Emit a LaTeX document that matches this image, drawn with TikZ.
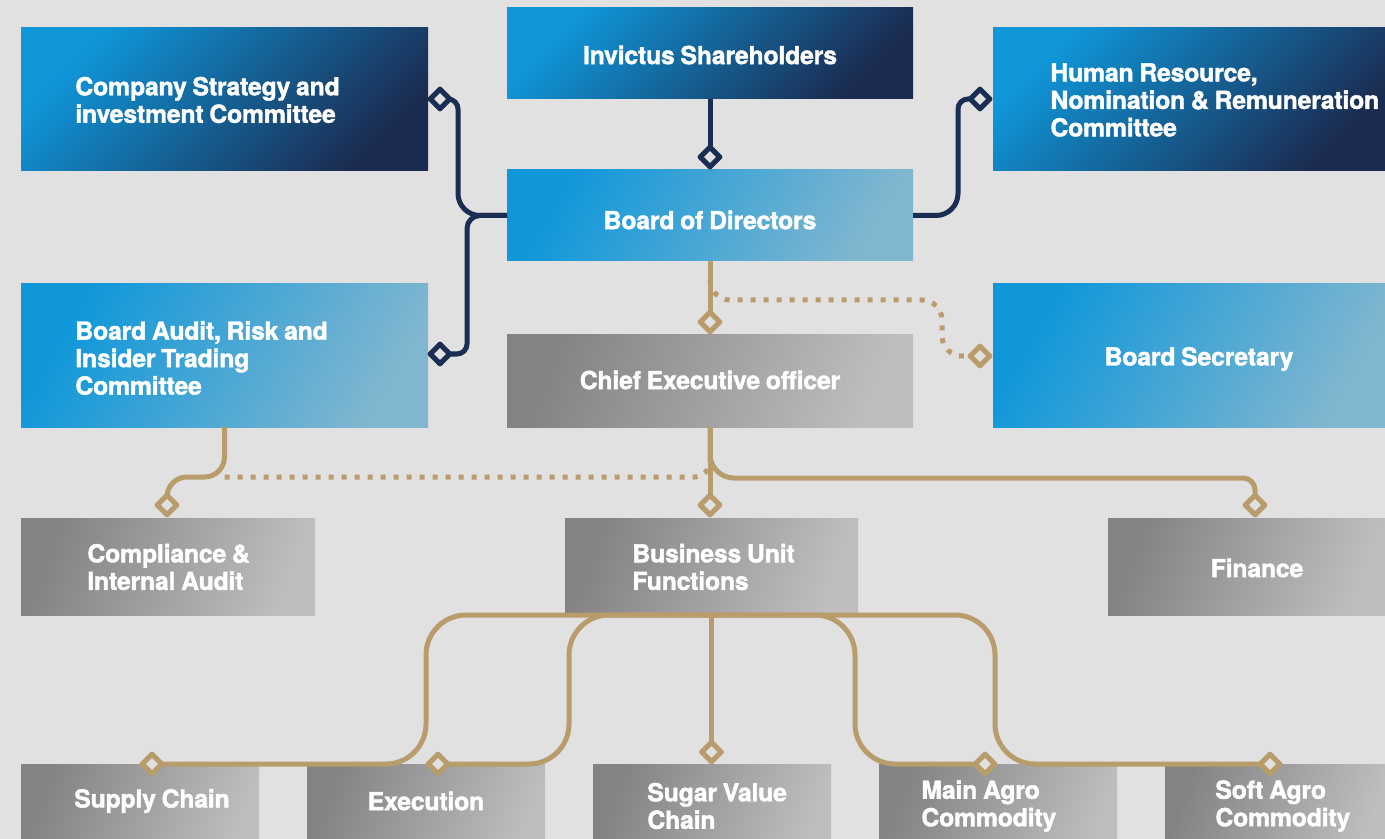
\documentclass[tikz,border=0pt]{standalone}
\usepackage{fontspec}
\setmainfont{TeX Gyre Heros}
\newfontfamily\heavyfont[FakeBold=1.6, LetterSpace=-0.8, WordSpace=0.85]{TeX Gyre Heros Bold}
\usetikzlibrary{shapes.geometric,fit}
\definecolor{bg}{HTML}{E1E1E1}
\definecolor{navy}{HTML}{1A2D52}
\definecolor{gold}{HTML}{B89C6C}
\definecolor{blueA}{HTML}{0F97DA}
\definecolor{navyB}{HTML}{1B2B50}
\definecolor{lightB}{HTML}{80B6CF}
\definecolor{grayA}{HTML}{838383}
\definecolor{grayB}{HTML}{BEBEBE}
\tikzset{
  box/.style={inner sep=0pt, outer sep=0pt, draw=none},
  darkbox/.style={box, left color=blueA, right color=navyB, shading angle=45},
  lightbox/.style={box, left color=blueA, right color=lightB, shading angle=60},
  graybox/.style={box, left color=grayA, right color=grayB, shading angle=70},
  lbl/.style={text=white, font=\heavyfont\fontsize{12.4}{13.75}\selectfont, inner sep=0pt, align=left},
  clbl/.style={lbl, align=center},
  navyline/.style={draw=navy, line width=2.5pt},
  goldline/.style={draw=gold, line width=2.5pt},
  dotline/.style={draw=gold, line width=2.5pt, dash pattern=on 2.5pt off 4pt},
  dmd/.style={diamond, fill=bg, minimum size=9.4pt, inner sep=0pt},
  ndmd/.style={dmd},
  gdmd/.style={dmd},
}
\begin{document}
\begin{tikzpicture}[x=0.5pt, y=-0.5pt]
\fill[bg] (0,0) rectangle (1385,839);
\clip (0,0) rectangle (1385,839);
% boxes
\node[darkbox, fit={(507,8) (913,99)}] (sh) {};
\node[darkbox, fit={(21,28) (428,171)}] (cs) {};
\node[darkbox, fit={(993,28) (1385,171)}] (hr) {};
\node[lightbox, fit={(507,170) (913,261)}] (bod) {};
\node[lightbox, fit={(21,284) (428,427)}] (ba) {};
\node[lightbox, fit={(993,284) (1385,427)}] (bs) {};
\node[graybox, fit={(507,335) (913,427)}] (ceo) {};
\node[graybox, fit={(21,518) (315,615)}] (ca) {};
\node[graybox, fit={(565,518) (858,612)}] (bu) {};
\node[graybox, fit={(1108,518) (1385,615)}] (fin) {};
\node[graybox, fit={(21,764) (259,860)}] (sc) {};
\node[graybox, fit={(307,764) (545,860)}] (ex) {};
\node[graybox, fit={(593,764) (831,860)}] (sug) {};
\node[graybox, fit={(879,764) (1117,860)}] (ma) {};
\node[graybox, fit={(1165,764) (1385,860)}] (sa) {};
% diamond positions
\node[ndmd] (dSh) at (710,157) {};
\node[ndmd] (dCS) at (440,99) {};
\node[ndmd] (dBA) at (440,354) {};
\node[ndmd] (dHR) at (980,99) {};
\node[gdmd] (dCEO) at (710,322) {};
\node[gdmd] (dBS) at (980,356) {};
\node[gdmd] (dBU) at (710,505) {};
\node[gdmd] (dCA) at (167,505) {};
\node[gdmd] (dFin) at (1255,505) {};
\node[gdmd] (dSC) at (152,764) {};
\node[gdmd] (dEx) at (438,764) {};
\node[gdmd] (dSug) at (711.5,752) {};
\node[gdmd] (dMA) at (985,764) {};
\node[gdmd] (dSA) at (1270,764) {};
% connectors
\draw[navyline] (sh.south) -- (dSh.north);
\draw[navyline] (bod.west) [rounded corners=11pt] -- (458,215.5) -- (458,150) [rounded corners=5pt] -- (458,99) -- (dCS.east);
\draw[navyline] (bod.west) [rounded corners=6.5pt] -- (467,215.5) -- (467,280) [rounded corners=5pt] -- (467,354) -- (dBA.east);
\draw[navyline] (bod.east) [rounded corners=11pt] -- (958,215.5) -- (958,150) [rounded corners=5pt] -- (958,99) -- (dHR.west);
\draw[goldline] (bod.south) -- (dCEO.north);
\coordinate (j1) at (710,280);
\draw[dotline, rounded corners=10pt] (j1) |- (942,300) -- (942,356) -- (dBS.west);
\draw[goldline] (ceo.south) -- (dBU.north);
\draw[goldline] (ceo.south) [rounded corners=12pt] |- (1100,478) [rounded corners=6pt] -- (1255,478) -- (dFin.north);
\draw[goldline, rounded corners=10pt] (ba.south) -- (224.5,477) -- (167,477) -- (dCA.north);
\coordinate (j2) at (224.5,477);
\coordinate (j3) at (710,452);
\draw[dotline, rounded corners=8pt] (j2) -| (j3);
\coordinate (bb) at (711.5,615);
\draw[goldline, rounded corners=20pt] (bb) -- (426,615) -- (426,764) -- (dSC.east);
\draw[goldline, rounded corners=20pt] (bb) -- (569,615) -- (569,764) -- (dEx.east);
\draw[goldline] (bb) -- (dSug.north);
\draw[goldline, rounded corners=20pt] (bb) -- (855,615) -- (855,764) -- (dMA.west);
\draw[goldline, rounded corners=20pt] (bb) -- (995,615) -- (995,764) -- (dSA.west);
% diamonds drawn on top of the connectors
\foreach \n/\c in {dSh/navy,dCS/navy,dBA/navy,dHR/navy,dCEO/gold,dBS/gold,dBU/gold,dCA/gold,dFin/gold,dSC/gold,dEx/gold,dSug/gold,dMA/gold,dSA/gold}
  \draw[line width=2.6pt, line join=round, draw=\c, fill=bg] (\n.north) -- (\n.east) -- (\n.south) -- (\n.west) -- cycle;
% labels
\node[lbl, anchor=west] (csT) at (75,100) {Company Strategy and\\investment Committee};
\node[clbl] (shT) at (710,55) {Invictus Shareholders};
\node[lbl, anchor=west] (hrT) at (1050,100) {Human Resource,\\Nomination \& Remuneration\\Committee};
\node[clbl] (bodT) at (710,220) {Board of Directors};
\node[lbl, anchor=west] (baT) at (75,358) {Board Audit, Risk and\\Insider Trading\\Committee};
\node[clbl] (ceoT) at (710,380) {Chief Executive officer};
\node[clbl] (bsT) at (1199,359) {Board Secretary};
\node[lbl, anchor=west] (caT) at (87,567) {Compliance \&\\Internal Audit};
\node[lbl, anchor=west] (buT) at (632,567) {Business Unit\\Functions};
\node[clbl] (finT) at (1257,568) {Finance};
\node[clbl] (scT) at (152,801) {Supply Chain};
\node[clbl] (exT) at (426,801) {Execution};
\node[lbl, anchor=west] (sugT) at (647,806) {Sugar Value\\Chain};
\node[lbl, anchor=west] (maT) at (921,806) {Main Agro\\Commodity};
\node[lbl, anchor=west] (saT) at (1215,806) {Soft Agro\\Commodity};
\end{tikzpicture}
\end{document}
